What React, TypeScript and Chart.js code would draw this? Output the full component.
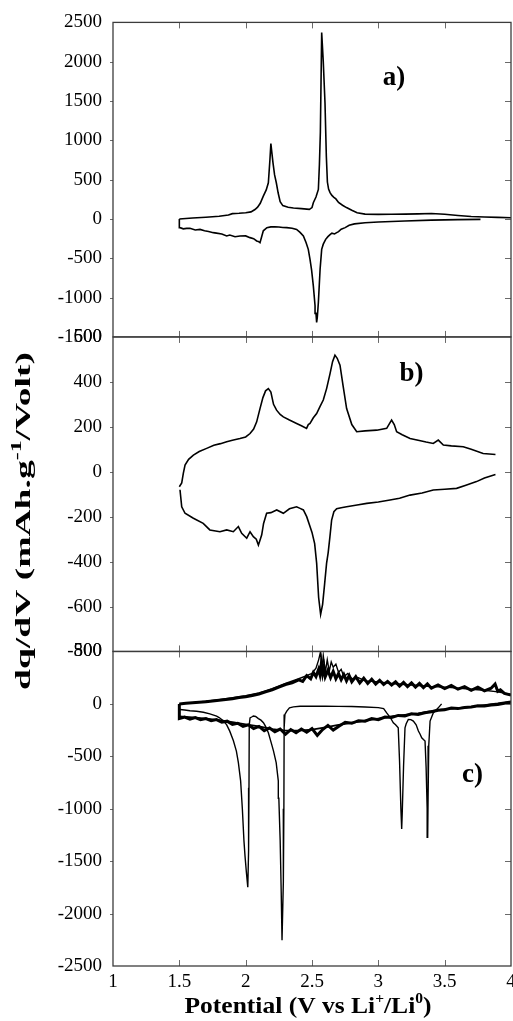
import React, { useEffect, useRef } from 'react';
import { Chart, registerables } from 'chart.js';

Chart.register(...registerables);

const SERIF = '"Liberation Serif", "Times New Roman", serif';

// x axis (Potential, V vs Li+/Li0)
const xTickValues = [1, 1.5, 2, 2.5, 3, 3.5, 4];
const xTickLabels = ['1', '1.5', '2', '2.5', '3', '3.5', '4'];

// panel y ranges
const aRange = { min: -1500, max: 2500, step: 500 };
const bRange = { min: -800, max: 600, step: 200 };
const cRange = { min: -2500, max: 500, step: 500 };

// ---------- panel a ----------
const aChargeV = [1.5, 1.6, 1.7, 1.8, 1.87, 1.9, 1.95, 2.0, 2.04, 2.07, 2.09, 2.11, 2.133, 2.155, 2.171, 2.183, 2.19, 2.197, 2.206, 2.218, 2.231, 2.245, 2.26, 2.28, 2.32, 2.36, 2.42, 2.48, 2.5, 2.51, 2.53, 2.548, 2.556, 2.563, 2.573, 2.585, 2.598, 2.608, 2.616, 2.625, 2.636, 2.65, 2.665, 2.68, 2.7, 2.73, 2.76, 2.8, 2.84, 2.9, 3.0, 3.1, 3.2, 3.3, 3.4, 3.5, 3.6, 3.7, 3.8, 3.9, 4.0];
const aChargeQ = [0, 12, 22, 35, 50, 68, 72, 80, 90, 120, 150, 200, 290, 370, 460, 756, 960, 850, 714, 560, 461, 330, 220, 170, 150, 140, 132, 122, 145, 207, 280, 376, 700, 1100, 2370, 2000, 1476, 800, 470, 380, 335, 300, 275, 255, 210, 175, 145, 110, 80, 62, 58, 60, 62, 65, 70, 60, 45, 32, 25, 20, 16];

const aDischargeV = [3.77, 3.6, 3.4, 3.2, 3.0, 2.9, 2.82, 2.78, 2.75, 2.72, 2.7, 2.686, 2.67, 2.65, 2.636, 2.62, 2.603, 2.585, 2.573, 2.561, 2.548, 2.54, 2.535, 2.53, 2.523, 2.51, 2.497, 2.485, 2.472, 2.455, 2.435, 2.41, 2.384, 2.35, 2.31, 2.28, 2.25, 2.22, 2.19, 2.16, 2.133, 2.12, 2.108, 2.095, 2.083, 2.06, 2.033, 2.0, 1.957, 1.92, 1.88, 1.857, 1.82, 1.78, 1.756, 1.72, 1.69, 1.656, 1.62, 1.58, 1.555, 1.53, 1.505, 1.5, 1.5];
const aDischargeQ = [-5, -8, -15, -25, -38, -47, -62, -81, -110, -130, -160, -174, -190, -180, -200, -225, -259, -320, -386, -640, -1062, -1250, -1316, -1200, -1104, -850, -650, -513, -386, -300, -216, -170, -132, -118, -110, -108, -102, -98, -100, -110, -150, -230, -301, -285, -279, -250, -237, -215, -216, -225, -205, -216, -190, -180, -174, -160, -150, -132, -140, -118, -119, -125, -110, -100, 0];

// ---------- panel b ----------
const bChargeV = [1.5, 1.518, 1.53, 1.543, 1.57, 1.606, 1.65, 1.706, 1.76, 1.81, 1.857, 1.9, 1.957, 2.0, 2.033, 2.06, 2.083, 2.108, 2.13, 2.15, 2.171, 2.19, 2.21, 2.233, 2.26, 2.284, 2.33, 2.384, 2.42, 2.459, 2.472, 2.485, 2.51, 2.535, 2.56, 2.585, 2.61, 2.636, 2.655, 2.673, 2.69, 2.711, 2.735, 2.761, 2.8, 2.837, 2.9, 2.988, 3.063, 3.085, 3.1, 3.12, 3.138, 3.18, 3.239, 3.3, 3.36, 3.414, 3.452, 3.49, 3.55, 3.64, 3.7, 3.79, 3.883];
const bChargeQ = [-67, -50, -7, 30, 55, 74, 90, 104, 118, 125, 133, 140, 148, 155, 170, 190, 222, 281, 330, 360, 370, 355, 300, 274, 255, 244, 230, 215, 205, 193, 210, 215, 240, 259, 290, 319, 370, 437, 490, 519, 505, 474, 380, 281, 210, 178, 182, 185, 193, 215, 230, 210, 178, 165, 148, 140, 132, 126, 141, 119, 115, 111, 100, 81, 77];

const bDischargeV = [3.883, 3.8, 3.74, 3.66, 3.59, 3.5, 3.414, 3.33, 3.239, 3.16, 3.088, 3.0, 2.913, 2.84, 2.761, 2.72, 2.686, 2.665, 2.648, 2.635, 2.622, 2.61, 2.595, 2.58, 2.565, 2.55, 2.535, 2.52, 2.5, 2.485, 2.46, 2.435, 2.41, 2.384, 2.33, 2.284, 2.234, 2.19, 2.158, 2.135, 2.121, 2.108, 2.096, 2.08, 2.058, 2.033, 2.008, 1.97, 1.945, 1.907, 1.857, 1.806, 1.73, 1.68, 1.606, 1.543, 1.518, 1.505];
const bDischargeQ = [-12, -28, -44, -60, -74, -78, -81, -95, -104, -118, -126, -135, -141, -148, -156, -160, -165, -178, -215, -290, -360, -407, -500, -590, -635, -560, -407, -320, -270, -244, -200, -170, -163, -156, -165, -185, -170, -182, -185, -230, -281, -305, -326, -300, -289, -267, -296, -274, -244, -267, -259, -267, -259, -230, -207, -185, -156, -80];

// ---------- panel c ----------
const cUpperAV = [1.5, 1.55, 1.6, 1.65, 1.7, 1.75, 1.8, 1.85, 1.9, 1.95, 2.0, 2.05, 2.1, 2.15, 2.2, 2.25, 2.3, 2.35, 2.4, 2.43, 2.46, 2.49, 2.51, 2.53, 2.55, 2.56, 2.57, 2.58, 2.59, 2.6, 2.62, 2.64, 2.66, 2.68, 2.7, 2.72, 2.74, 2.76, 2.78, 2.8, 2.83, 2.86, 2.89, 2.92, 2.95, 2.98, 3.01, 3.04, 3.07, 3.1, 3.13, 3.16, 3.19, 3.22, 3.25, 3.28, 3.31, 3.34, 3.37, 3.4, 3.45, 3.5, 3.55, 3.6, 3.65, 3.7, 3.75, 3.8, 3.85, 3.88, 3.9, 3.92, 3.95, 4.0];
const cUpperAQ = [0, 5, 10, 15, 20, 28, 35, 42, 50, 60, 68, 80, 95, 115, 135, 160, 185, 200, 230, 215, 270, 240, 300, 260, 330, 280, 380, 290, 350, 260, 320, 250, 310, 240, 290, 230, 280, 220, 270, 210, 260, 200, 245, 195, 235, 190, 225, 185, 215, 180, 210, 170, 205, 165, 200, 160, 195, 155, 190, 150, 180, 145, 175, 140, 165, 130, 160, 125, 150, 190, 120, 135, 100, 85];

const cUpperBV = [1.5, 1.6, 1.7, 1.8, 1.9, 2.0, 2.1, 2.2, 2.3, 2.4, 2.45, 2.5, 2.53, 2.55, 2.565, 2.575, 2.585, 2.6, 2.615, 2.63, 2.645, 2.66, 2.68, 2.7, 2.72, 2.74, 2.77, 2.8, 2.85, 2.9, 3.0, 3.1, 3.2, 3.3, 3.4, 3.5, 3.6, 3.7, 3.8, 3.9, 4.0];
const cUpperBQ = [0, 12, 25, 40, 58, 78, 105, 145, 195, 240, 265, 290, 340, 420, 500, 330, 460, 300, 420, 310, 400, 350, 380, 300, 330, 260, 290, 240, 250, 220, 210, 195, 185, 175, 165, 160, 150, 140, 130, 115, 90];

const cLowerAV = [4.0, 3.95, 3.9, 3.85, 3.8, 3.75, 3.7, 3.65, 3.6, 3.55, 3.5, 3.45, 3.4, 3.35, 3.3, 3.25, 3.2, 3.15, 3.1, 3.05, 3.0, 2.95, 2.9, 2.85, 2.8, 2.75, 2.7, 2.66, 2.62, 2.58, 2.54, 2.5, 2.46, 2.42, 2.38, 2.34, 2.3, 2.26, 2.22, 2.18, 2.14, 2.1, 2.06, 2.02, 1.98, 1.94, 1.9, 1.86, 1.82, 1.78, 1.74, 1.7, 1.66, 1.62, 1.58, 1.54, 1.5, 1.5];
const cLowerAQ = [15, 5, -5, -10, -20, -18, -30, -35, -45, -40, -55, -60, -75, -85, -100, -95, -115, -110, -130, -125, -150, -140, -165, -160, -185, -175, -215, -250, -205, -245, -300, -235, -270, -240, -275, -245, -290, -240, -265, -230, -255, -215, -235, -200, -215, -185, -195, -165, -175, -150, -160, -140, -150, -130, -145, -125, -140, 0];

const cLowerBV = [4.0, 3.9, 3.8, 3.7, 3.6, 3.5, 3.4, 3.3, 3.2, 3.1, 3.0, 2.9, 2.8, 2.7, 2.6, 2.5, 2.4, 2.3, 2.2, 2.1, 2.0, 1.9, 1.8, 1.7, 1.6, 1.5];
const cLowerBQ = [25, 5, -12, -28, -40, -50, -68, -90, -105, -120, -140, -160, -180, -200, -225, -245, -255, -255, -240, -215, -195, -175, -155, -140, -130, -120];

const cFirstV = [3.477, 3.45, 3.414, 3.39, 3.38, 3.375, 3.372, 3.368, 3.36, 3.352, 3.34, 3.327, 3.315, 3.302, 3.285, 3.264, 3.245, 3.226, 3.21, 3.201, 3.19, 3.18, 3.176, 3.17, 3.16, 3.15, 3.13, 3.113, 3.09, 3.063, 3.04, 3.0, 2.9, 2.8, 2.7, 2.6, 2.5, 2.41, 2.36, 2.33, 2.31, 2.296, 2.29, 2.288, 2.284, 2.274, 2.268, 2.26, 2.25, 2.246, 2.23, 2.21, 2.196, 2.171, 2.15, 2.134, 2.115, 2.096, 2.075, 2.058, 2.045, 2.033, 2.027, 2.025, 2.022, 2.016, 2.005, 1.995, 1.987, 1.975, 1.962, 1.945, 1.93, 1.907, 1.88, 1.857, 1.831, 1.8, 1.781, 1.73, 1.681, 1.63, 1.58, 1.54, 1.505];
const cFirstQ = [0, -40, -86, -164, -400, -900, -1273, -1000, -600, -354, -340, -323, -290, -259, -200, -164, -150, -148, -190, -228, -600, -1050, -1193, -1000, -550, -228, -200, -180, -130, -86, -45, -36, -30, -25, -24, -22, -22, -22, -28, -38, -69, -101, -228, -1000, -1700, -2254, -1800, -1300, -900, -734, -560, -450, -386, -275, -215, -180, -155, -140, -120, -115, -125, -133, -200, -800, -1400, -1748, -1600, -1450, -1304, -1000, -734, -560, -450, -350, -260, -200, -160, -130, -117, -95, -80, -70, -65, -58, -53];

const panelLabels = ['a)', 'b)', 'c)'];
// label anchor points in data units (x, y) for each panel
const panelLabelV = [3.118, 3.25, 3.71];
const panelLabelQ = [1790, 435, -680];

const xTitleParts = [
  { t: 'Potential (V vs Li', sup: false },
  { t: '+', sup: true },
  { t: '/Li', sup: false },
  { t: '0', sup: true },
  { t: ')', sup: false },
];
const yTitleParts = [
  { t: 'dq/dV (mAh.g', sup: false },
  { t: '-1', sup: true },
  { t: '/Volt)', sup: false },
];

function zip(v: number[], q: number[]) {
  return v.map((x, i) => ({ x, y: q[i] }));
}

function ticksOf(r: { min: number; max: number; step: number }) {
  const out: number[] = [];
  for (let v = r.min; v <= r.max + 1e-9; v += r.step) out.push(v);
  return out;
}

function drawRich(
  ctx: CanvasRenderingContext2D,
  parts: { t: string; sup: boolean }[],
  size: number,
  targetLen: number,
) {
  const main = `bold ${size}px ${SERIF}`;
  const small = `bold ${Math.round(size * 0.62)}px ${SERIF}`;
  let w = 0;
  for (const p of parts) {
    ctx.font = p.sup ? small : main;
    w += ctx.measureText(p.t).width;
  }
  const sx = targetLen / w;
  ctx.scale(sx, 1);
  let x = -w / 2;
  ctx.textAlign = 'left';
  ctx.textBaseline = 'alphabetic';
  for (const p of parts) {
    ctx.font = p.sup ? small : main;
    ctx.fillText(p.t, x, p.sup ? -size * 0.42 : 0);
    x += ctx.measureText(p.t).width;
  }
}

const framePlugin = {
  id: 'frame',
  afterDraw(chart: any) {
    const ctx: CanvasRenderingContext2D = chart.ctx;
    const xs = chart.scales.x;
    const panels = [
      { s: chart.scales.ya, r: aRange },
      { s: chart.scales.yb, r: bRange },
      { s: chart.scales.yc, r: cRange },
    ];
    const left = xs.left;
    const right = xs.right;
    ctx.save();
    // tick marks
    ctx.strokeStyle = '#6a6a6a';
    ctx.lineWidth = 1;
    ctx.beginPath();
    for (const p of panels) {
      const top = p.s.top;
      const bottom = p.s.bottom;
      for (const v of xTickValues.slice(1, -1)) {
        const px = Math.round(xs.getPixelForValue(v)) + 0.5;
        ctx.moveTo(px, top);
        ctx.lineTo(px, top + 6);
        ctx.moveTo(px, bottom);
        ctx.lineTo(px, bottom - 6);
      }
      for (const v of ticksOf(p.r).slice(1, -1)) {
        const py = Math.round(p.s.getPixelForValue(v)) + 0.5;
        ctx.moveTo(left - 3, py);
        ctx.lineTo(left, py);
        ctx.moveTo(right - 6, py);
        ctx.lineTo(right, py);
      }
    }
    ctx.stroke();
    // frames
    ctx.strokeStyle = '#3c3c3c';
    ctx.lineWidth = 1.3;
    for (const p of panels) {
      ctx.strokeRect(left, p.s.top, right - left, p.s.bottom - p.s.top);
    }
    // panel letters
    ctx.fillStyle = '#000';
    ctx.font = `bold 27px ${SERIF}`;
    ctx.textAlign = 'center';
    ctx.textBaseline = 'middle';
    panels.forEach((p, i) => {
      ctx.fillText(panelLabels[i], xs.getPixelForValue(panelLabelV[i]), p.s.getPixelForValue(panelLabelQ[i]));
    });
    // x tick labels
    ctx.font = `19px ${SERIF}`;
    ctx.textAlign = 'center';
    ctx.textBaseline = 'middle';
    xTickValues.forEach((v, i) => {
      ctx.fillText(xTickLabels[i], xs.getPixelForValue(v), 982);
    });
    // x title
    ctx.save();
    ctx.translate(308, 1013);
    drawRich(ctx, xTitleParts, 23, 247);
    ctx.restore();
    // y title
    ctx.save();
    ctx.translate(30, 521);
    ctx.rotate(-Math.PI / 2);
    drawRich(ctx, yTitleParts, 22, 338);
    ctx.restore();
    ctx.restore();
  },
};

function yScale(r: { min: number; max: number; step: number }) {
  return {
    type: 'linear',
    position: 'left',
    stack: 'panels',
    stackWeight: 1,
    offset: false,
    min: r.min,
    max: r.max,
    ticks: {
      stepSize: r.step,
      autoSkip: false,
      padding: 11,
      color: '#000',
      font: { family: SERIF, size: 19 },
      callback: (v: any) => String(v),
    },
    grid: { display: false, drawTicks: false },
    border: { display: false },
    afterFit: (s: any) => {
      s.width = 113;
    },
  };
}

function line(data: { x: number; y: number }[], axis: string, width: number) {
  return {
    data,
    yAxisID: axis,
    borderColor: '#000',
    backgroundColor: '#000',
    borderWidth: width,
    pointRadius: 0,
    tension: 0,
    fill: false,
  };
}

export default function App() {
  const ref = useRef<HTMLCanvasElement>(null);
  useEffect(() => {
    const canvas = ref.current;
    if (!canvas) return;
    const chart = new Chart(canvas, {
      type: 'line',
      data: {
        datasets: [
          line(zip(aChargeV, aChargeQ), 'ya', 1.6),
          line(zip(aDischargeV, aDischargeQ), 'ya', 1.6),
          line(zip(bChargeV, bChargeQ), 'yb', 1.6),
          line(zip(bDischargeV, bDischargeQ), 'yb', 1.6),
          line(zip(cUpperAV, cUpperAQ), 'yc', 3),
          line(zip(cUpperBV, cUpperBQ), 'yc', 1.4),
          line(zip(cLowerAV, cLowerAQ), 'yc', 3),
          line(zip(cLowerBV, cLowerBQ), 'yc', 1.8),
          line(zip(cFirstV, cFirstQ), 'yc', 1.4),
        ] as any,
      },
      options: {
        animation: false,
        responsive: false,
        devicePixelRatio: 1,
        layout: { padding: { top: 19, bottom: 55, left: 0, right: 2 } },
        plugins: { legend: { display: false }, tooltip: { enabled: false } },
        scales: {
          x: { type: 'linear', min: 1, max: 4, display: false },
          yc: yScale(cRange),
          yb: yScale(bRange),
          ya: yScale(aRange),
        } as any,
      },
      plugins: [framePlugin as any],
    });
    return () => chart.destroy();
  }, []);
  return (
    <div style={{ position: 'fixed', left: 0, top: 0, width: 513, height: 1021, background: '#fff' }}>
      <canvas ref={ref} width={513} height={1021} style={{ display: 'block', width: 513, height: 1021 }} />
    </div>
  );
}
